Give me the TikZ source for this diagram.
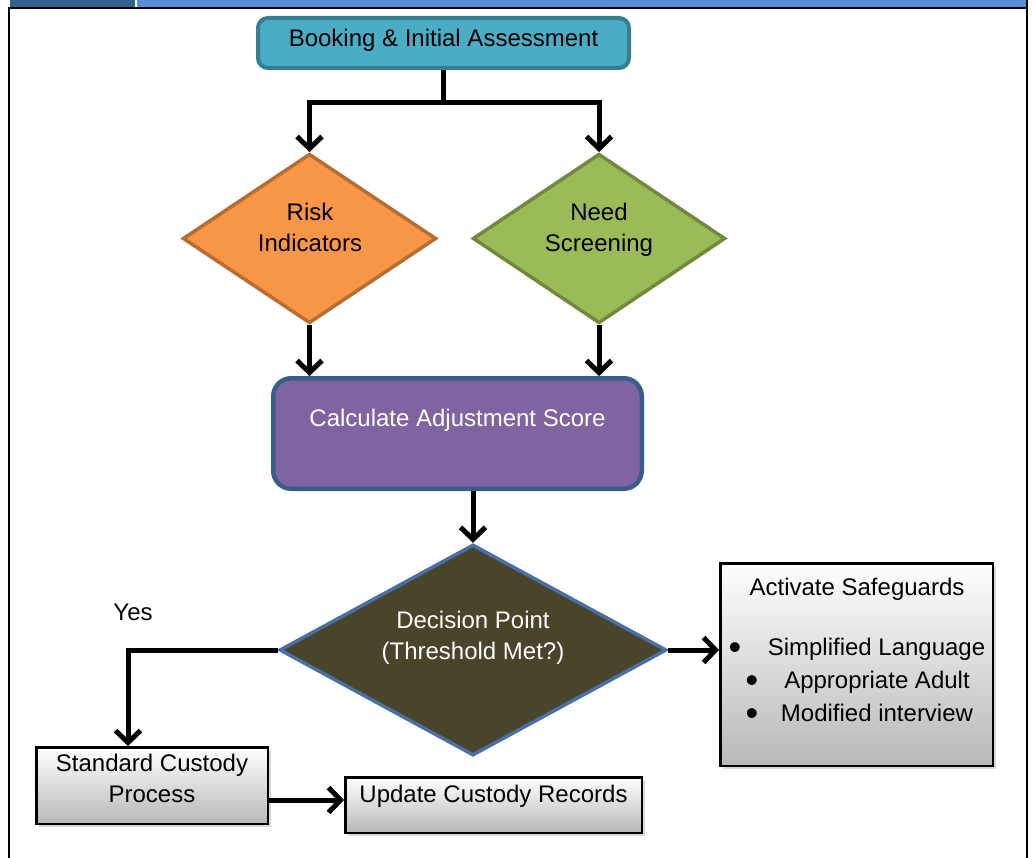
\documentclass[tikz,border=0pt]{standalone}
\usepackage{fontspec}
\setmainfont{Liberation Sans}
\usetikzlibrary{shapes.geometric,arrows.meta,shadows}

\definecolor{barblue}{HTML}{558ED5}
\definecolor{bardark}{HTML}{366092}
\definecolor{bookfill}{HTML}{4BACC6}
\definecolor{bookline}{HTML}{357D91}
\definecolor{riskfill}{HTML}{F79646}
\definecolor{riskline}{HTML}{B66D31}
\definecolor{needfill}{HTML}{9BBB59}
\definecolor{needline}{HTML}{71893F}
\definecolor{calcfill}{HTML}{8064A2}
\definecolor{calcline}{HTML}{385D8A}
\definecolor{decfill}{HTML}{4A452A}
\definecolor{decline}{HTML}{4A6FA5}

\tikzset{
  link/.style={black, line width=5pt},
  flow/.style={link, -{Straight Barb[length=12pt,width=25pt]}},
  diam/.style={diamond, inner sep=0pt, line width=3.5pt},
  graybox/.style={draw=black, line width=2.5pt, top color=white, bottom color=black!28,
    drop shadow={shadow xshift=3pt, shadow yshift=-3pt, opacity=0.3}},
  txt/.style={align=center, text depth=5pt},
  bullet/.style={inner sep=0pt, font=\fontsize{36}{36}\selectfont}
}

\begin{document}
\begin{tikzpicture}[x=1pt, y=-1pt, font=\fontsize{24}{31}\selectfont]
  \useasboundingbox (0,0) rectangle (1032,858);
  % frame
  \fill[bardark] (10,0) rectangle (135,7);
  \fill[barblue] (137,0) rectangle (1026,7);
  \draw[line width=2pt] (9,8) -- (1027,8);
  \draw[line width=2pt] (9,7) -- (9,858);
  \draw[line width=2pt] (1027,0) -- (1027,858);

  % nodes
  \node[draw=bookline, fill=bookfill, line width=4pt, rounded corners=10pt,
    minimum width=371pt, minimum height=50pt] (book) at (443.5,43) {};
  \node[txt] (booktext) at (443.5,40) {Booking \& Initial Assessment};
  \node[diam, draw=riskline, fill=riskfill, minimum width=253.5pt, minimum height=169.5pt] (risk) at (309.5,238.5) {};
  \node[txt] (risktext) at (310,230) {Risk\\Indicators};
  \node[diam, draw=needline, fill=needfill, minimum width=252.5pt, minimum height=169.5pt] (need) at (599,238.5) {};
  \node[txt] (needtext) at (599,230) {Need\\Screening};
  \node[draw=calcline, fill=calcfill, line width=4.5pt, rounded corners=18pt,
    minimum width=368.5pt, minimum height=110.5pt] (calc) at (457.5,433.5) {};
  \node[txt, white] (calctext) at (457.5,420) {Calculate Adjustment Score};
  \node[diam, draw=decline, fill=decfill, line width=3.5pt, minimum width=387pt, minimum height=211pt] (dec) at (473,650) {};
  \node[txt, white] (dectext) at (473,638) {Decision Point\\(Threshold Met?)};
  \node[txt] (yes) at (133,615) {Yes};

  \node[graybox, minimum width=272.5pt, minimum height=202.5pt] (safe) at (856.5,664.5) {};
  \node[txt] (safetitle) at (857,589) {Activate Safeguards};
  \node[txt] (sl) at (876.5,649) {Simplified Language};
  \node[txt] (aa) at (877,682) {Appropriate Adult};
  \node[txt] (mi) at (877,715) {Modified interview};
  \node[bullet] (b1) at (735,651) {•};
  \node[bullet] (b2) at (752,684) {•};
  \node[bullet] (b3) at (752,717) {•};

  \node[graybox, minimum width=231.5pt, minimum height=76.5pt] (std) at (152,785.5) {};
  \node[txt] (stdtext) at (152,781) {Standard Custody\\Process};
  \node[graybox, minimum width=296.5pt, minimum height=55.5pt] (upd) at (493.5,805) {};
  \node[txt] (updtext) at (493.5,796) {Update Custody Records};

  % connectors
  \draw[link] (book.south) -- ++(0,33) coordinate (fork);
  \draw[flow] (fork) -| (risk.north);
  \draw[flow] (fork) -| (need.north);
  \draw[flow] (risk.south) -- (risk.south |- calc.north);
  \draw[flow] (need.south) -- (need.south |- calc.north);
  \draw[flow] (dec.north |- calc.south) -- (dec.north);
  \draw[flow] (dec.west) -| ([xshift=-24pt]std.north);
  \draw[flow] (dec.east) -- (dec.east -| safe.west);
  \draw[flow] ([yshift=-14.5pt]std.east) -- ([yshift=-14.5pt]std.east -| upd.west);
\end{tikzpicture}
\end{document}
